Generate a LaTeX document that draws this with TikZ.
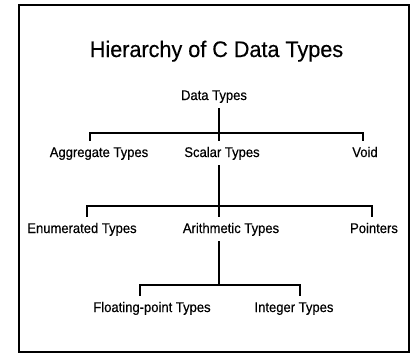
\documentclass[tikz,border=0pt]{standalone}
\usepackage{fontspec}
\setmainfont{Liberation Sans}
\newfontfamily\labelfont[FakeStretch=0.93, FakeBold=0.4]{Liberation Sans}
\newfontfamily\headfont[FakeStretch=0.96, FakeBold=0.4]{Liberation Sans}
\usepackage{tikz}
\usetikzlibrary{positioning}
\tikzstyle{tnode} = [anchor=base, inner xsep=0pt, inner ysep=6pt, text height=10pt, text depth=2pt, font=\labelfont\fontsize{14}{16}\selectfont]
\tikzstyle{title} = [anchor=base, inner sep=0pt, font=\headfont\fontsize{22.5}{26}\selectfont]
\tikzstyle{line} = [draw, line width=1.7pt]

\begin{document}
\begin{tikzpicture}[x=1pt, y=-1pt]
			\useasboundingbox (0,0) rectangle (412,354);
			\draw [line width=2pt] (18.5,5) rectangle (409,352);
			\node [title] (head) at (216.5,57) {Hierarchy of C Data Types};
			
			\node [tnode] (data) at (214,100) {Data Types};
			\node [tnode] (agg) at (99,157) {Aggregate Types};
			\node [tnode] (scalar) at (222,157) {Scalar Types};
			\node [tnode] (void) at (365,157) {Void};
			\node [tnode] (enum) at (82,233) {Enumerated Types};
			\node [tnode] (arith) at (231,233) {Arithmetic Types};
			\node [tnode] (ptr) at (374,233) {Pointers};
			\node [tnode] (float) at (152,312) {Floating-point Types};
			\node [tnode] (int) at (294,312) {Integer Types};
			
			\coordinate (j1) at (219,133);
			\coordinate (b1l) at (90,133);
			\coordinate (b1r) at (363,133);
			\coordinate (b2l) at (87,206);
			\coordinate (b2r) at (372,206);
			\coordinate (j3) at (219,285);
			\coordinate (b3l) at (140,285);
			\coordinate (b3r) at (300,285);
			
			\path [line] (data.south -| j1) -- (j1 |- scalar.north);
			\path [line] (b1l |- agg.north) -- (b1l) -- (b1r) -- (b1r |- void.north);
			\path [line] (scalar.south -| j1) -- (j1 |- arith.north);
			\path [line] (b2l |- enum.north) -- (b2l) -- (b2r) -- (b2r |- ptr.north);
			\path [line] (arith.south -| j3) -- (j3);
			\path [line] (b3l |- float.north) -- (b3l) -- (b3r) -- (b3r |- int.north);
		\end{tikzpicture}
\end{document}
